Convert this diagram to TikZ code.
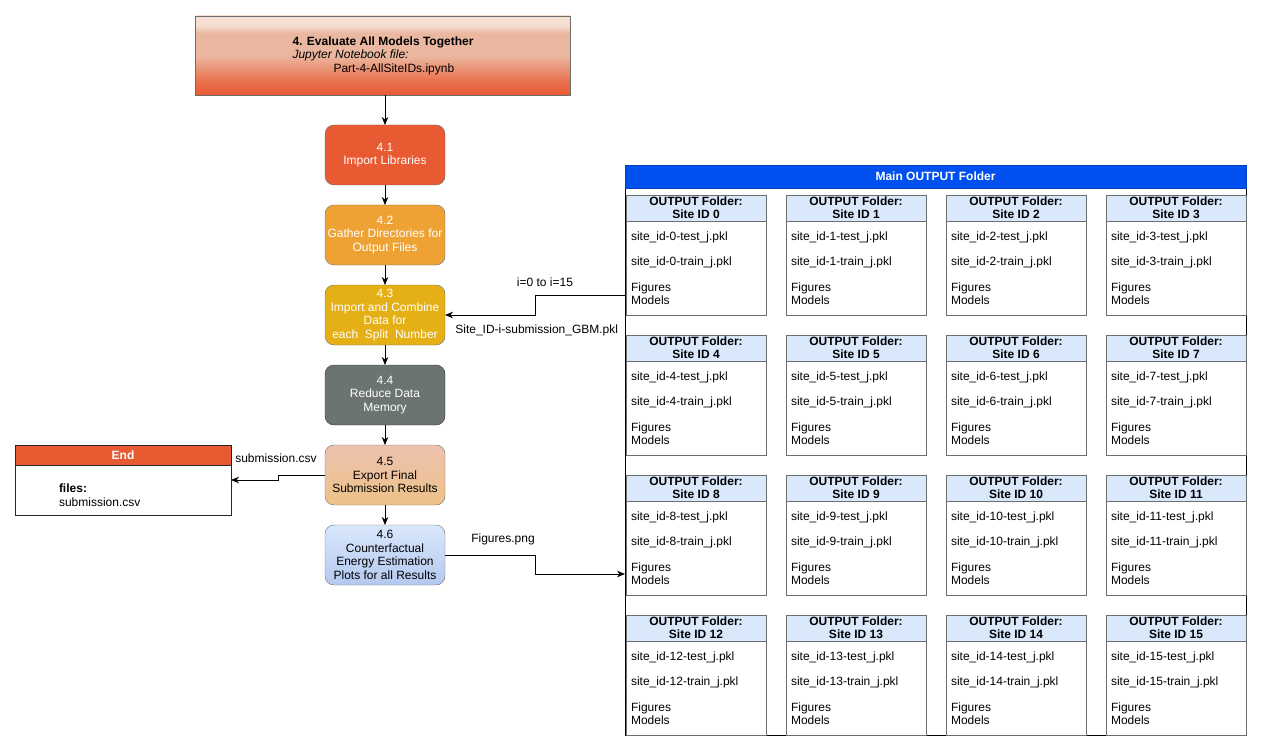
\documentclass[tikz,border=0pt]{standalone}
\usepackage{fontspec}
\setmainfont{Liberation Sans}
\usepackage{tikz}
\usetikzlibrary{arrows,arrows.meta}
\usetikzlibrary{positioning}
\definecolor{redorange}{RGB}{232,90,50}
\definecolor{salmon}{RGB}{234,183,160}
\definecolor{palesalmon}{RGB}{246,222,210}
\definecolor{amber}{RGB}{238,162,52}
\definecolor{gold}{RGB}{228,176,22}
\definecolor{slate}{RGB}{108,115,115}
\definecolor{paleblue}{RGB}{218,232,252}
\definecolor{midblue}{RGB}{180,200,240}
\definecolor{mainblue}{RGB}{0,80,239}
\definecolor{boxgray}{RGB}{110,110,110}
\pgfdeclareverticalshading{notebookshade}{100bp}{color(0bp)=(redorange); color(25bp)=(redorange); color(35bp)=(redorange!70!salmon); color(50bp)=(salmon); color(64bp)=(salmon); color(69bp)=(palesalmon); color(100bp)=(palesalmon)}

\begin{document}
\begin{tikzpicture}[x=1pt,y=-1pt,
  every node/.style={outer sep=0pt,font=\fontsize{12}{13.5}\selectfont},
  stepbox/.style={rectangle,rounded corners=9pt,draw=boxgray,minimum width=120pt,minimum height=60pt,inner sep=1pt,align=center},
  folderhead/.style={rectangle,draw=boxgray,fill=paleblue,minimum width=140pt,minimum height=26pt,inner sep=0pt,align=center,font=\fontsize{12}{13}\selectfont\bfseries},
  folderbody/.style={rectangle,draw=boxgray,minimum width=140pt,minimum height=94pt,text width=130pt,inner xsep=5pt,inner ysep=0pt,align=left},
  link/.style={draw=black,line width=0.8pt,-{Stealth[length=8pt,width=6.5pt,inset=2.5pt]}}]
\useasboundingbox (0,0) rectangle (1261,754);

% notebook and its steps
\node[rectangle,draw=boxgray,shading=notebookshade,minimum width=375pt,minimum height=79pt,align=left,inner sep=0pt](eval) at (383,55.5){\textbf{4. Evaluate All Models Together}\\\textit{Jupyter Notebook file:}\\\hspace*{41pt}Part-4-AllSiteIDs.ipynb};
\node[stepbox,fill=redorange,text=white](s41) at (385,155){4.1\\Import Libraries};
\node[stepbox,fill=amber,text=white,below=20pt of s41](s42){4.2\\Gather Directories for\\Output Files};
\node[stepbox,fill=gold,text=white,below=20pt of s42](s43){4.3\\Import and Combine\\Data for\\each\ \ Split\ \ Number};
\node[stepbox,fill=slate,draw=black!80,text=white,below=20pt of s43](s44){4.4\\Reduce Data\\Memory};
\node[stepbox,top color=salmon!85!white,bottom color=salmon!85!yellow,below=20pt of s44](s45){4.5\\Export Final\\Submission Results};
\node[stepbox,top color=paleblue,bottom color=midblue,below=20pt of s45](s46){4.6\\Counterfactual\\Energy Estimation\\Plots for all Results};

% end box
\node[rectangle,draw=black!85,fill=white,minimum width=216pt,minimum height=70pt,anchor=north west,inner sep=0pt](endbox) at (15,445){};
\node[rectangle,draw=black!85,fill=redorange,text=white,minimum width=216pt,minimum height=20pt,anchor=north west,inner sep=0pt,font=\fontsize{12}{13.5}\selectfont\bfseries](endhead) at (15,445){End};
\node[anchor=west,align=left,inner sep=0pt](endfiles) at (59,495){\textbf{files:}\\submission.csv};

% main output folder
\node[rectangle,draw=black,minimum width=621pt,minimum height=570pt,anchor=north west,inner sep=0pt](main) at (625,165){};
\node[rectangle,draw=mainblue!80!black,fill=mainblue,text=white,minimum width=621pt,minimum height=23pt,anchor=north west,inner sep=0pt,font=\fontsize{12}{13.5}\selectfont\bfseries](mainhead) at (625,165){Main OUTPUT Folder};

\node[folderhead,anchor=north west](h0) at (626,195){OUTPUT Folder:\\Site ID 0};
\node[folderbody,below=0pt of h0](f0){site\_id-0-test\_j.pkl\\[12pt]site\_id-0-train\_j.pkl\\[12pt]Figures\\Models};
\node[folderhead,right=20pt of h0](h1){OUTPUT Folder:\\Site ID 1};
\node[folderbody,below=0pt of h1](f1){site\_id-1-test\_j.pkl\\[12pt]site\_id-1-train\_j.pkl\\[12pt]Figures\\Models};
\node[folderhead,right=20pt of h1](h2){OUTPUT Folder:\\Site ID 2};
\node[folderbody,below=0pt of h2](f2){site\_id-2-test\_j.pkl\\[12pt]site\_id-2-train\_j.pkl\\[12pt]Figures\\Models};
\node[folderhead,right=20pt of h2](h3){OUTPUT Folder:\\Site ID 3};
\node[folderbody,below=0pt of h3](f3){site\_id-3-test\_j.pkl\\[12pt]site\_id-3-train\_j.pkl\\[12pt]Figures\\Models};

\node[folderhead,below=20pt of f0](h4){OUTPUT Folder:\\Site ID 4};
\node[folderbody,below=0pt of h4](f4){site\_id-4-test\_j.pkl\\[12pt]site\_id-4-train\_j.pkl\\[12pt]Figures\\Models};
\node[folderhead,right=20pt of h4](h5){OUTPUT Folder:\\Site ID 5};
\node[folderbody,below=0pt of h5](f5){site\_id-5-test\_j.pkl\\[12pt]site\_id-5-train\_j.pkl\\[12pt]Figures\\Models};
\node[folderhead,right=20pt of h5](h6){OUTPUT Folder:\\Site ID 6};
\node[folderbody,below=0pt of h6](f6){site\_id-6-test\_j.pkl\\[12pt]site\_id-6-train\_j.pkl\\[12pt]Figures\\Models};
\node[folderhead,right=20pt of h6](h7){OUTPUT Folder:\\Site ID 7};
\node[folderbody,below=0pt of h7](f7){site\_id-7-test\_j.pkl\\[12pt]site\_id-7-train\_j.pkl\\[12pt]Figures\\Models};

\node[folderhead,below=20pt of f4](h8){OUTPUT Folder:\\Site ID 8};
\node[folderbody,below=0pt of h8](f8){site\_id-8-test\_j.pkl\\[12pt]site\_id-8-train\_j.pkl\\[12pt]Figures\\Models};
\node[folderhead,right=20pt of h8](h9){OUTPUT Folder:\\Site ID 9};
\node[folderbody,below=0pt of h9](f9){site\_id-9-test\_j.pkl\\[12pt]site\_id-9-train\_j.pkl\\[12pt]Figures\\Models};
\node[folderhead,right=20pt of h9](h10){OUTPUT Folder:\\Site ID 10};
\node[folderbody,below=0pt of h10](f10){site\_id-10-test\_j.pkl\\[12pt]site\_id-10-train\_j.pkl\\[12pt]Figures\\Models};
\node[folderhead,right=20pt of h10](h11){OUTPUT Folder:\\Site ID 11};
\node[folderbody,below=0pt of h11](f11){site\_id-11-test\_j.pkl\\[12pt]site\_id-11-train\_j.pkl\\[12pt]Figures\\Models};

\node[folderhead,below=20pt of f8](h12){OUTPUT Folder:\\Site ID 12};
\node[folderbody,below=0pt of h12](f12){site\_id-12-test\_j.pkl\\[12pt]site\_id-12-train\_j.pkl\\[12pt]Figures\\Models};
\node[folderhead,right=20pt of h12](h13){OUTPUT Folder:\\Site ID 13};
\node[folderbody,below=0pt of h13](f13){site\_id-13-test\_j.pkl\\[12pt]site\_id-13-train\_j.pkl\\[12pt]Figures\\Models};
\node[folderhead,right=20pt of h13](h14){OUTPUT Folder:\\Site ID 14};
\node[folderbody,below=0pt of h14](f14){site\_id-14-test\_j.pkl\\[12pt]site\_id-14-train\_j.pkl\\[12pt]Figures\\Models};
\node[folderhead,right=20pt of h14](h15){OUTPUT Folder:\\Site ID 15};
\node[folderbody,below=0pt of h15](f15){site\_id-15-test\_j.pkl\\[12pt]site\_id-15-train\_j.pkl\\[12pt]Figures\\Models};

% connector labels
\node(lbli) at (545,282){i=0 to i=15};
\node[anchor=west](lblsite) at (452,330){Site\_ID-i-submission\_GBM.pkl};
\node(lblfig) at (503,539){Figures.png};
\node(lblsub) at (276,458){submission.csv};
\coordinate(outarr) at (625,295);
\coordinate(figarr) at (625,574);

% connectors
\draw[link] (eval.south -| s41.north) -- (s41);
\draw[link] (s41) -- (s42);
\draw[link] (s42) -- (s43);
\draw[link] (s43) -- (s44);
\draw[link] (s44) -- (s45);
\draw[link] (s45) -- (s46);
\draw[link] (outarr) -- ++(-90,0) |- (s43.east);
\draw[link] (s46.east) -- ++(90,0) |- (figarr);
\draw[link] (s45.west) -- ++(-47,0) |- (endbox.east);
\end{tikzpicture}
\end{document}
